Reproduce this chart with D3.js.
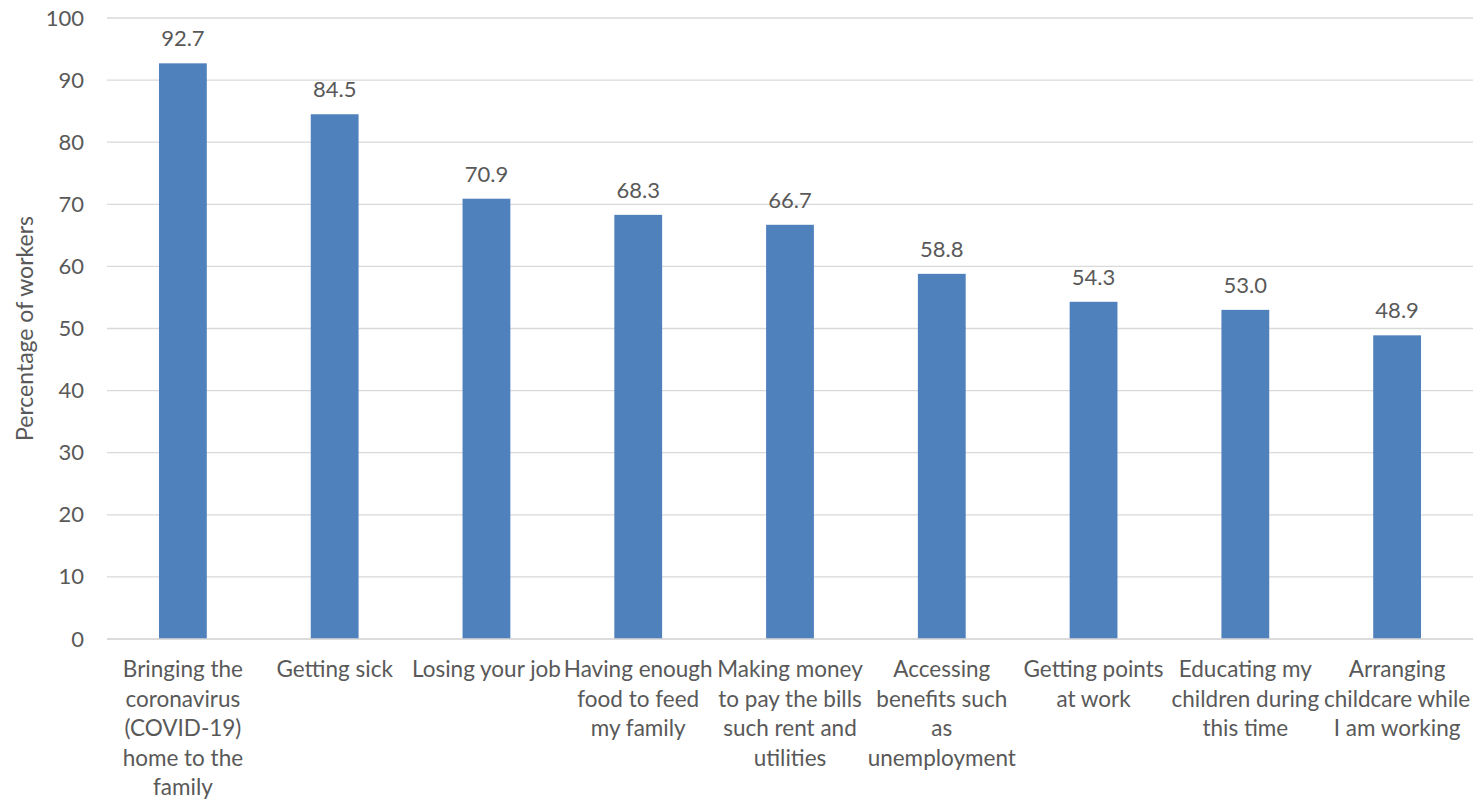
<!DOCTYPE html>
<html>
<head>
<meta charset="utf-8">
<script src="https://cdn.jsdelivr.net/npm/d3@7"></script>
<style>
  html, body { margin: 0; padding: 0; background: #ffffff; }
  svg { display: block; }
  text { font-family: Lato, "Open Sans", "Liberation Sans", sans-serif; fill: #595959; }
</style>
</head>
<body>
<svg id="chart" width="1480" height="799"></svg>
<script>
// Worries reported by workers (percentage of workers)
const categories = [
  ["Bringing the", "coronavirus", "(COVID-19)", "home to the", "family"],
  ["Getting sick"],
  ["Losing your job"],
  ["Having enough", "food to feed", "my family"],
  ["Making money", "to pay the bills", "such rent and", "utilities"],
  ["Accessing", "benefits such", "as", "unemployment"],
  ["Getting points", "at work"],
  ["Educating my", "children during", "this time"],
  ["Arranging", "childcare while", "I am working"]
];
const values = [92.7, 84.5, 70.9, 68.3, 66.7, 58.8, 54.3, 53.0, 48.9];
const yTicks = [0, 10, 20, 30, 40, 50, 60, 70, 80, 90, 100];
const yTitle = "Percentage of workers";

const svg = d3.select("#chart");
const margin = { left: 107, right: 7, top: 18, bottom: 160 };
const W = 1480, H = 799;

const keys = categories.map((c, i) => i);
const x = d3.scaleBand()
  .domain(keys)
  .range([margin.left, W - margin.right])
  .paddingInner(0.685)
  .paddingOuter(0.3425);

const y = d3.scaleLinear()
  .domain([0, 100])
  .range([H - margin.bottom, margin.top]);

// Horizontal gridlines
svg.append("g")
  .selectAll("line")
  .data(yTicks)
  .join("line")
  .attr("x1", margin.left)
  .attr("x2", W - margin.right)
  .attr("y1", d => y(d))
  .attr("y2", d => y(d))
  .attr("stroke", "#d9d9d9")
  .attr("stroke-width", 1.3);

// Y axis tick labels
const yAxis = d3.axisLeft(y).tickValues(yTicks).tickSize(0).tickPadding(0);
const gy = svg.append("g")
  .attr("transform", `translate(${margin.left - 23},0)`)
  .call(yAxis);
gy.select(".domain").remove();
gy.selectAll("text")
  .attr("font-size", 22)
  .attr("fill", "#595959")
  .style("font-family", "Lato, 'Open Sans', sans-serif");

// Y axis title
svg.append("text")
  .attr("transform", `translate(33,${(y(0) + y(100)) / 2}) rotate(-90)`)
  .attr("text-anchor", "middle")
  .attr("font-size", 23)
  .text(yTitle);

// Bars
svg.append("g")
  .selectAll("rect")
  .data(values)
  .join("rect")
  .attr("x", (d, i) => x(i))
  .attr("width", x.bandwidth())
  .attr("y", d => y(d))
  .attr("height", d => y(0) - y(d))
  .attr("fill", "#4f81bd");

// Value labels
svg.append("g")
  .selectAll("text")
  .data(values)
  .join("text")
  .attr("x", (d, i) => x(i) + x.bandwidth() / 2)
  .attr("y", d => y(d) - 17)
  .attr("text-anchor", "middle")
  .attr("font-size", 22)
  .text(d => d.toFixed(1));

// Baseline at zero
svg.append("line")
  .attr("x1", margin.left)
  .attr("x2", W - margin.right)
  .attr("y1", y(0))
  .attr("y2", y(0))
  .attr("stroke", "#d9d9d9")
  .attr("stroke-width", 1.5);

// Category labels (multi-line)
const gx = svg.append("g");
categories.forEach((lines, i) => {
  const t = gx.append("text")
    .attr("text-anchor", "middle")
    .attr("font-size", 22.5)
    .attr("x", x(i) + x.bandwidth() / 2)
    .attr("y", y(0) + 38);
  lines.forEach((ln, j) => {
    t.append("tspan")
      .attr("x", x(i) + x.bandwidth() / 2)
      .attr("dy", j === 0 ? 0 : 29.5)
      .text(ln);
  });
});
</script>
</body>
</html>
